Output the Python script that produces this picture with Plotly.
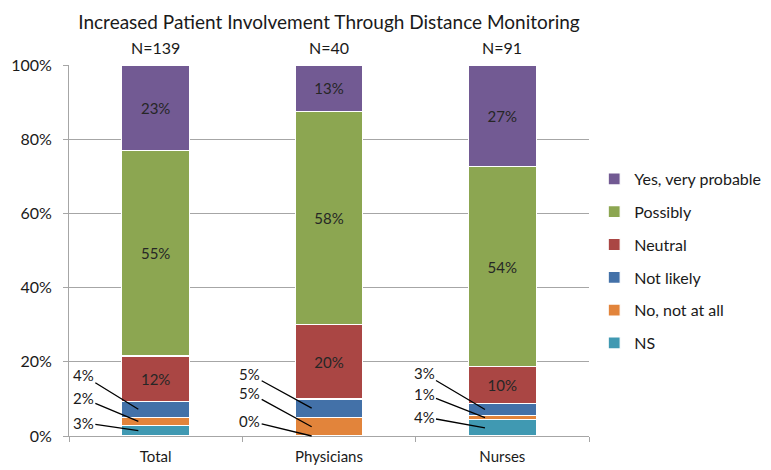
import plotly.graph_objects as go

categories = ["Total", "Physicians", "Nurses"]
n_labels = ["N=139", "N=40", "N=91"]
y_tick_values = [0, 20, 40, 60, 80, 100]
y_tick_labels = ["0%", "20%", "40%", "60%", "80%", "100%"]

series_names = ["NS", "No, not at all", "Not likely", "Neutral", "Possibly", "Yes, very probable"]
ns = [2.88, 0.0, 4.40]
no_not_at_all = [2.16, 5.0, 1.10]
not_likely = [4.32, 5.0, 3.30]
neutral = [12.23, 20.0, 9.89]
possibly = [55.40, 57.5, 53.85]
yes_very = [23.02, 12.5, 27.47]

series_values = [ns, no_not_at_all, not_likely, neutral, possibly, yes_very]
colors = ["#4099B2", "#E2843B", "#4371A8", "#AA4644", "#8CA651", "#725A93"]

FONT = "Lato, 'Open Sans', sans-serif"
TXT = "#1a1a1a"

fig = go.Figure()
for i, (name, vals, col) in enumerate(zip(series_names, series_values, colors)):
    tt = ["%{y:.0f}%" if v >= 8 else "" for v in vals]
    fig.add_trace(go.Bar(
        x=categories, y=vals, name=name, legendgroup=name,
        legendrank=100 - i,
        marker=dict(color=col, line=dict(color="white", width=1.2)),
        texttemplate=tt, textposition="inside", insidetextanchor="middle",
        textangle=0, constraintext="none",
        textfont=dict(family=FONT, size=15, color="#262626"),
        width=0.39, hoverinfo="skip",
    ))

# leader-line labels for small segments (series index 0..2)
offsets = {
    0: [(-55, -8), (-55, -23), (-55, -34)],
    1: [(-62, -15), (-62, -34), (-62, -34)],
    2: [(-61, -11), (-61, -24), (-61, -36)],
}
annotations = []
for ci in range(len(categories)):
    base = 0.0
    for si in range(3):
        v = series_values[si][ci]
        mid = base + v / 2
        base += v
        ax, ay = offsets[ci][si]
        annotations.append(dict(
            x=ci - 0.1, y=mid, xref="x", yref="y",
            text=f"{v:.0f}%", showarrow=True, arrowhead=0, arrowwidth=1.3,
            arrowcolor="black", ax=ax, ay=ay,
            font=dict(family=FONT, size=15, color=TXT),
        ))
for ci, t in enumerate(n_labels):
    annotations.append(dict(
        x=ci, y=1, xref="x", yref="paper", yanchor="bottom",
        text=t, showarrow=False, yshift=6,
        font=dict(family=FONT, size=16, color=TXT),
    ))

fig.update_layout(
    width=763, height=462,
    barmode="stack",
    plot_bgcolor="white", paper_bgcolor="white",
    margin=dict(l=61, r=182, t=57, b=34, autoexpand=False),
    title=dict(text="Increased Patient Involvement Through Distance Monitoring",
               x=0.5, xref="paper", xanchor="center", y=0.970, yanchor="middle",
               font=dict(family=FONT, size=19, color=TXT)),
    font=dict(family=FONT, size=15, color=TXT),
    showlegend=True,
    legend=dict(x=1.01, y=0.7385, xanchor="left", yanchor="top",
                traceorder="grouped", tracegroupgap=9,
                font=dict(family=FONT, size=16, color=TXT),
                itemwidth=30),
    annotations=annotations,
)
fig.update_xaxes(
    type="category", showline=True, linecolor="#A6A6A6", linewidth=1,
    ticks="outside", tickson="boundaries", ticklen=5, tickcolor="#A6A6A6",
    ticklabelstandoff=7,
    showgrid=False, tickfont=dict(family=FONT, size=15, color=TXT),
)
fig.update_yaxes(
    range=[0, 100], tickmode="array", tickvals=y_tick_values, ticktext=y_tick_labels,
    showline=True, linecolor="#A6A6A6", linewidth=1,
    ticks="outside", ticklen=5, tickcolor="#A6A6A6",
    ticklabelstandoff=8,
    showgrid=True, gridcolor="#A6A6A6", gridwidth=1,
    zeroline=False, tickfont=dict(family=FONT, size=16, color=TXT),
)

fig.write_html("out.html")
